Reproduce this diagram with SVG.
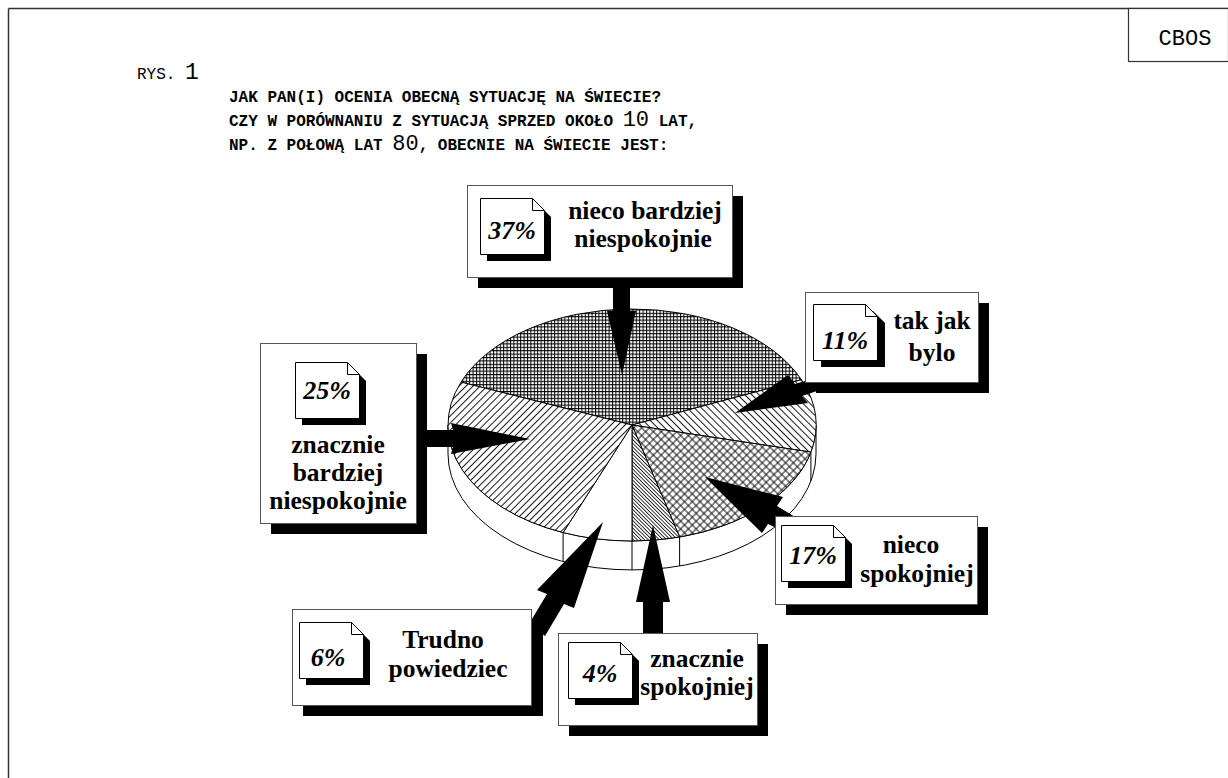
<svg xmlns="http://www.w3.org/2000/svg" width="1228" height="778" viewBox="0 0 1228 778">
<defs>
<style>
.frame{stroke:#333;stroke-width:1.5;fill:none}
.box{fill:#fff;stroke:#555;stroke-width:1}
.shadow{fill:#000}
.icon{fill:#fff;stroke:#000;stroke-width:1}
.fold{fill:none;stroke:#000;stroke-width:1}
.lbl{font-family:"Liberation Serif","Times New Roman",serif;font-weight:bold;font-size:25.5px;fill:#000;text-anchor:middle}
.pct{font-family:"Liberation Serif","Times New Roman",serif;font-weight:bold;font-style:italic;font-size:26px;fill:#000;text-anchor:middle}
.ttl{font-family:"Liberation Mono","Courier New",monospace;font-weight:bold;font-size:16px;fill:#000}
.dig{font-weight:normal;font-size:22px}
.arrow{fill:#000}
.pie{stroke:#000;stroke-width:1}
</style>
<pattern id="grid" patternUnits="userSpaceOnUse" width="3.4" height="3.4">
<rect width="3.4" height="3.4" fill="#fff"/>
<path d="M0 0.5H3.4M0.5 0V3.4" stroke="#000" stroke-width="1"/>
</pattern>
<pattern id="fwd" patternUnits="userSpaceOnUse" width="5" height="5" patternTransform="rotate(-45)">
<rect width="5" height="5" fill="#fff"/>
<path d="M0 2.5H5" stroke="#000" stroke-width="0.9"/>
</pattern>
<pattern id="back" patternUnits="userSpaceOnUse" width="5" height="5" patternTransform="rotate(45)">
<rect width="5" height="5" fill="#fff"/>
<path d="M0 2.5H5" stroke="#000" stroke-width="0.9"/>
</pattern>
<pattern id="cross" patternUnits="userSpaceOnUse" width="5.5" height="5.5" patternTransform="rotate(45)">
<rect width="5.5" height="5.5" fill="#fff"/>
<path d="M0 2.75H5.5M2.75 0V5.5" stroke="#000" stroke-width="0.9"/>
</pattern>
<pattern id="dense" patternUnits="userSpaceOnUse" width="2.6" height="2.6" patternTransform="rotate(45)">
<rect width="2.6" height="2.6" fill="#fff"/>
<path d="M0 1.3H2.6" stroke="#000" stroke-width="0.8"/>
</pattern>
<path id="doc" d="M0 0H52L64 12V56H0Z"/>
</defs>

<rect width="1228" height="778" fill="#fff"/>

<g id="frame">
<path class="frame" d="M8.5 8.5H1228M8.5 8.5V778"/>
<rect x="1128.5" y="8.5" width="100" height="53" fill="#fff" stroke="#333" stroke-width="1.2"/>
<text x="1185" y="45" font-family="Liberation Mono, Courier New, monospace" font-size="22" text-anchor="middle">CBOS</text>
</g>

<g id="title">
<text x="137" y="79" font-family="Liberation Mono, Courier New, monospace" font-size="16">RYS. <tspan font-size="23">1</tspan></text>
<text class="ttl" x="229" y="102">JAK PAN(I) OCENIA OBECNĄ SYTUACJĘ NA ŚWIECIE?</text>
<text class="ttl" x="229" y="126">CZY W PORÓWNANIU Z SYTUACJĄ SPRZED OKOŁO <tspan class="dig">10</tspan> LAT,</text>
<text class="ttl" x="229" y="150">NP. Z POŁOWĄ LAT <tspan class="dig">80</tspan>, OBECNIE NA ŚWIECIE JEST:</text>
</g>

<g id="pie">
<path class="pie" fill="#fff" d="M816 425V454A184 116 0 0 1 448 454V425A184 116 0 0 0 816 425Z"/>
<path class="pie" fill="none" d="M810.9 452.1V481.1M679.6 537V566M632 541V570M563.1 532.6V561.6"/>
<path class="pie" fill="url(#grid)" d="M632 425L461.05 382.11A184 116 0 0 1 801.4 379.7Z"/>
<path class="pie" fill="url(#back)" d="M632 425L801.4 379.7A184 116 0 0 1 810.9 452.1Z"/>
<path class="pie" fill="url(#cross)" d="M632 425L810.9 452.1A184 116 0 0 1 679.6 537Z"/>
<path class="pie" fill="url(#dense)" d="M632 425L679.6 537A184 116 0 0 1 632 541Z"/>
<path class="pie" fill="#fff" d="M632 425L632 541A184 116 0 0 1 563.1 532.6Z"/>
<path class="pie" fill="url(#fwd)" d="M632 425L563.1 532.6A184 116 0 0 1 461.05 382.11Z"/>
</g>

<g id="connectors">
<polygon class="arrow" points="613,280 630,280 630,311 636,311 622,375 607,311 613,311"/>
<polygon class="arrow" points="735,413 788,375 795,384 822,376 826,388 802,396 808,403"/>
<polygon class="arrow" points="415,430 453,430 451,423 530,439 451,454 453,447 415,447"/>
<polygon class="arrow" points="705,477 783,497 777,506 800,520 791,535 768,524 762,533"/>
<polygon class="arrow" points="603,522 574,608 564,604 545,636 529,624 547,594 537,590"/>
<polygon class="arrow" points="653,525 670,602 663,602 663,640 643,640 643,602 636,602"/>
</g>

<g id="n37">
<rect class="shadow" x="478" y="196" width="265" height="92"/>
<rect class="box" x="467.5" y="185.5" width="265" height="92"/>
<use href="#doc" x="487" y="205" class="shadow"/>
<use href="#doc" x="480.5" y="198.5" class="icon"/>
<path class="fold" d="M532.5 198.5V210.5H544.5"/>
<text class="pct" x="512" y="239">37%</text>
<text class="lbl" x="645" y="219">nieco bardziej</text>
<text class="lbl" x="643" y="247">niespokojnie</text>
</g>

<g id="n11">
<rect class="shadow" x="816" y="303" width="173" height="90"/>
<rect class="box" x="805.5" y="292.5" width="173" height="90"/>
<use href="#doc" x="821" y="311" class="shadow"/>
<use href="#doc" x="813.5" y="304.5" class="icon"/>
<path class="fold" d="M865.5 304.5V316.5H877.5"/>
<text class="pct" x="845" y="349">11%</text>
<text class="lbl" x="932" y="329">tak jak</text>
<text class="lbl" x="932" y="361">bylo</text>
</g>

<g id="n25">
<rect class="shadow" x="271" y="354" width="156" height="180"/>
<rect class="box" x="260.5" y="343.5" width="156" height="180"/>
<use href="#doc" x="302" y="369" class="shadow"/>
<use href="#doc" x="295.5" y="362.5" class="icon"/>
<path class="fold" d="M347.5 362.5V374.5H359.5"/>
<text class="pct" x="327" y="399">25%</text>
<text class="lbl" x="338" y="453">znacznie</text>
<text class="lbl" x="338" y="481">bardziej</text>
<text class="lbl" x="338" y="509">niespokojnie</text>
</g>

<g id="n17">
<rect class="shadow" x="786" y="527" width="202" height="88"/>
<rect class="box" x="775.5" y="516.5" width="202" height="88"/>
<use href="#doc" x="788" y="532" class="shadow"/>
<use href="#doc" x="781.5" y="525.5" class="icon"/>
<path class="fold" d="M833.5 525.5V537.5H845.5"/>
<text class="pct" x="813" y="564">17%</text>
<text class="lbl" x="911" y="553">nieco</text>
<text class="lbl" x="917" y="582">spokojniej</text>
</g>

<g id="n6">
<rect class="shadow" x="303" y="620" width="240" height="96"/>
<rect class="box" x="292.5" y="609.5" width="239" height="96"/>
<use href="#doc" x="306" y="629" class="shadow"/>
<use href="#doc" x="299.5" y="622.5" class="icon"/>
<path class="fold" d="M351.5 622.5V634.5H363.5"/>
<text class="pct" x="328" y="666">6%</text>
<text class="lbl" x="443" y="648">Trudno</text>
<text class="lbl" x="448" y="677">powiedziec</text>
</g>

<g id="n4">
<rect class="shadow" x="569" y="644" width="199" height="92"/>
<rect class="box" x="558.5" y="633.5" width="199" height="92"/>
<use href="#doc" x="575" y="649" class="shadow"/>
<use href="#doc" x="568.5" y="642.5" class="icon"/>
<path class="fold" d="M620.5 642.5V654.5H632.5"/>
<text class="pct" x="600" y="682">4%</text>
<text class="lbl" x="697" y="667">znacznie</text>
<text class="lbl" x="697" y="695">spokojniej</text>
</g>
</svg>
